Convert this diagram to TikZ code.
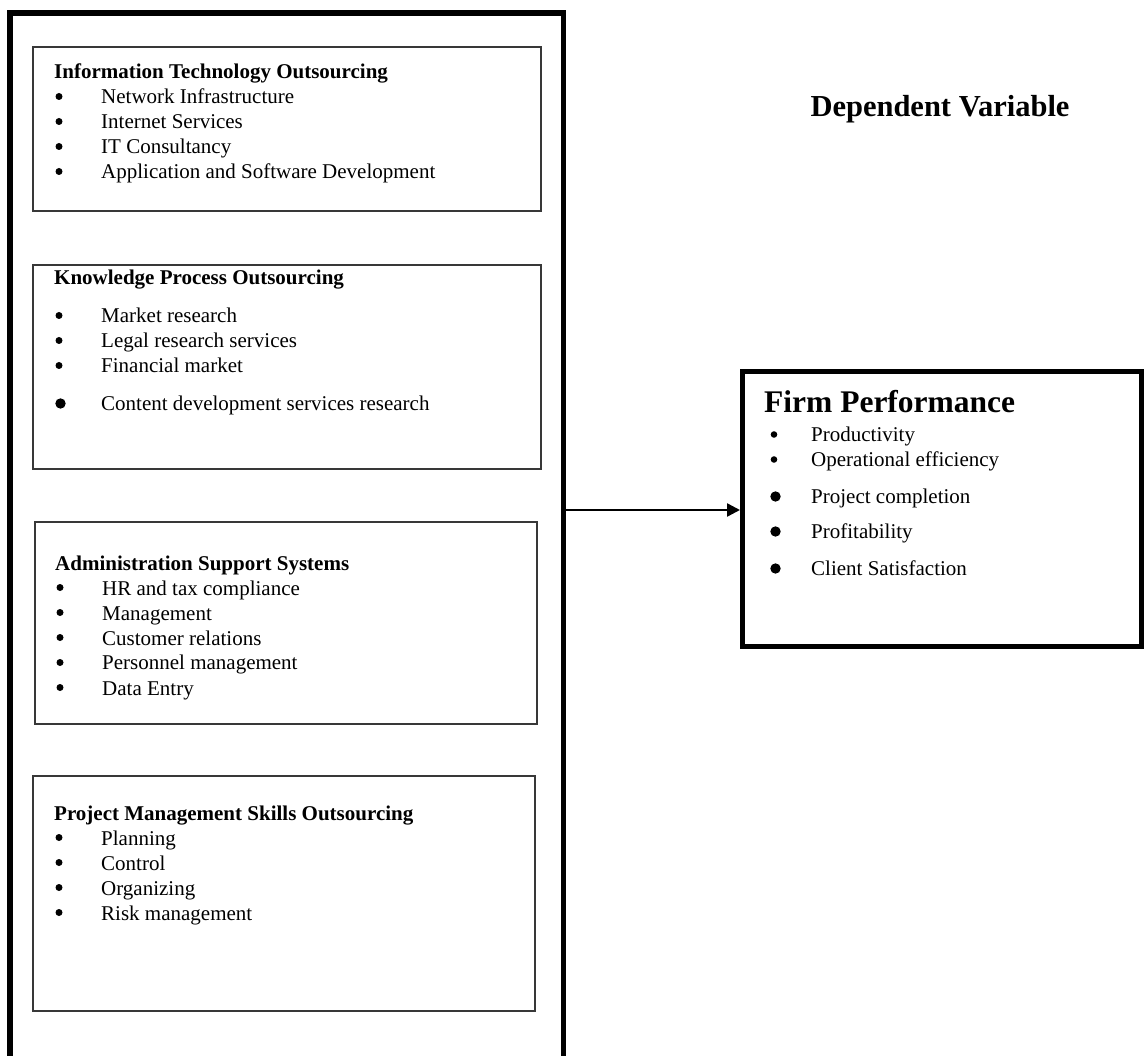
\documentclass[tikz,border=0pt]{standalone}
\usepackage{fontspec}
\setmainfont{Liberation Serif}
\usetikzlibrary{arrows.meta}
\newcommand\bl{\hspace*{47pt}}
\newcommand\fbl{\hspace*{42pt}}
\begin{document}
\begin{tikzpicture}[x=1pt,y=-1pt,
  inbox/.style={draw=black!78, line width=1.4pt, anchor=north west, inner sep=0pt, outer sep=0pt},
  bigbox/.style={draw=black, line width=5pt, anchor=north west, inner sep=0pt, outer sep=0pt},
  outerline/.style={draw=black, line width=5.5pt, line join=miter},
  listtext/.style={anchor=base west, inner sep=0pt, font=\fontsize{21}{25}\selectfont},
  headtext/.style={anchor=base, inner sep=0pt, font=\fontsize{30.5}{36}\selectfont\bfseries},
  arrowline/.style={draw=black, line width=2.5pt, -{Triangle[length=13pt,width=13pt]}},
  smalldot/.style={fill=black},
  bigdot/.style={fill=black}]
\useasboundingbox (0,0) rectangle (1144,1056);
\fill[white] (0,0) rectangle (1144,1056);

% outer frame (open at the bottom)
\draw[outerline] (10,1056) -- (10,13) -- (563.5,13) -- (563.5,1056);
\coordinate (oe) at (563.5,510);

% inner boxes
\node[inbox, minimum width=508pt, minimum height=164pt] (it) at (33,47) {};
\node[inbox, minimum width=508pt, minimum height=204pt] (kpo) at (33,265) {};
\node[inbox, minimum width=502pt, minimum height=202pt] (adm) at (35,522) {};
\node[inbox, minimum width=502pt, minimum height=235pt] (pm) at (33,776) {};

\node[listtext] (itt) at (54,79) {\begin{tabular}[t]{@{}l@{}}
\textbf{Information Technology Outsourcing}\\
\bl Network Infrastructure\\
\bl Internet Services\\
\bl IT Consultancy\\
\bl Application and Software Development
\end{tabular}};
\foreach \yy in {104,129,154,179} \fill[smalldot] (59,\yy-7.5) circle (3.5pt);

\node[listtext] (kpot) at (54,285) {\begin{tabular}[t]{@{}l@{}}
\textbf{Knowledge Process Outsourcing}\\[13pt]
\bl Market research\\
\bl Legal research services\\
\bl Financial market\\[13pt]
\bl Content development services research
\end{tabular}};
\foreach \yy in {323,348,373} \fill[smalldot] (59,\yy-7.5) circle (3.5pt);
\fill[bigdot] (60.5,411-7.5) circle (5.2pt);

\node[listtext] (admt) at (55,570) {\begin{tabular}[t]{@{}l@{}}
\textbf{Administration Support Systems}\\
\bl HR and tax compliance\\
\bl Management\\
\bl Customer relations\\
\bl Personnel management\\
\bl Data Entry
\end{tabular}};
\foreach \yy in {595,620,645,670,695} \fill[smalldot] (60,\yy-7.5) circle (3.5pt);

\node[listtext] (pmt) at (54,820) {\begin{tabular}[t]{@{}l@{}}
\textbf{Project Management Skills Outsourcing}\\
\bl Planning\\
\bl Control\\
\bl Organizing\\
\bl Risk management
\end{tabular}};
\foreach \yy in {845,870,895,920} \fill[smalldot] (59,\yy-7.5) circle (3.5pt);

% dependent variable
\node[headtext] (dv) at (940,117) {Dependent Variable};

\node[bigbox, minimum width=399.5pt, minimum height=275pt] (firm) at (742,371.5) {};
\node[listtext] (firmt) at (769,413) {\begin{tabular}[t]{@{}l@{}}
\hspace*{-5pt}{\fontsize{31.5}{36}\selectfont\bfseries Firm Performance}\\[4pt]
\fbl Productivity\\
\fbl Operational efficiency\\[12pt]
\fbl Project completion\\[10pt]
\fbl Profitability\\[12pt]
\fbl Client Satisfaction
\end{tabular}};
\foreach \yy in {442,467} \fill[smalldot] (774,\yy-7.5) circle (3.3pt);
\foreach \yy in {504,539,576} \fill[bigdot] (775.5,\yy-7.5) circle (5.2pt);

\draw[arrowline, shorten >=2pt] (oe) -- (oe -| firm.west);
\end{tikzpicture}
\end{document}
